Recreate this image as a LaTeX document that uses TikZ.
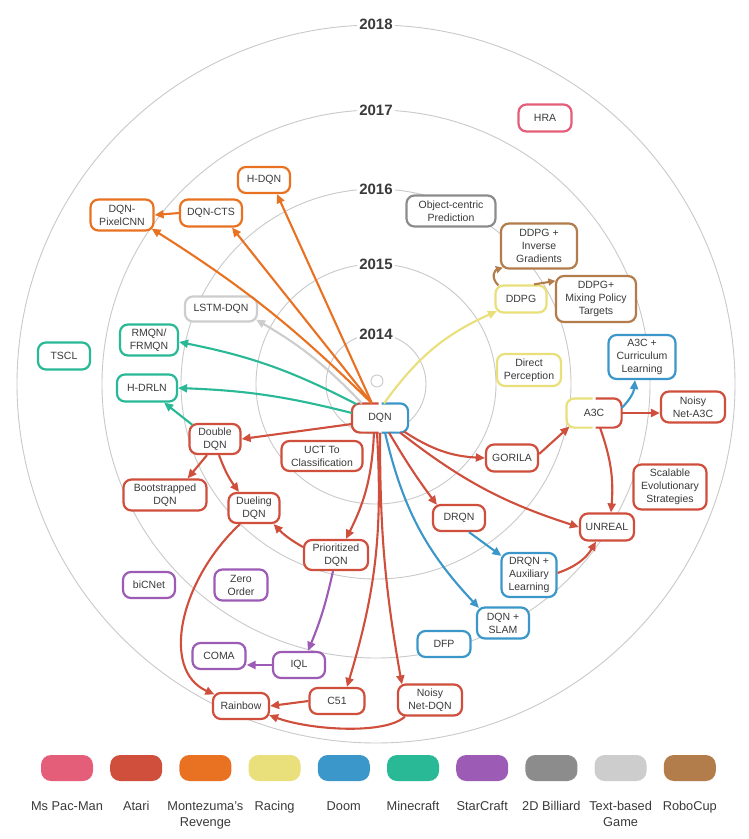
\documentclass[tikz,border=0pt]{standalone}
\usepackage{fontspec}
\setmainfont{Liberation Sans}
\usetikzlibrary{arrows.meta,calc}
\definecolor{cpink}{HTML}{E45E7A}
\definecolor{cred}{HTML}{CF4E3C}
\definecolor{corange}{HTML}{E87222}
\definecolor{cyellow}{HTML}{E9E07C}
\definecolor{cblue}{HTML}{3B97C9}
\definecolor{cteal}{HTML}{29B996}
\definecolor{cpurple}{HTML}{9C5BB5}
\definecolor{cgray}{HTML}{8C8C8C}
\definecolor{clight}{HTML}{CDCDCD}
\definecolor{cbrown}{HTML}{B27D4B}
\definecolor{ccircle}{HTML}{C9C9C9}
\definecolor{ctext}{HTML}{3A3A3A}
\begin{document}
\begin{tikzpicture}[x=1pt,y=-1pt,
  box/.style={draw, line width=2.2pt, rounded corners=8pt, fill=white, align=center,
    text=ctext, font=\fontsize{10.5}{12.9}\selectfont, inner sep=1pt},
  sz/.style 2 args={minimum width=#1pt, minimum height=#2pt},
  conn/.style={line width=2.1pt, -{Triangle[length=9pt,width=8pt]}},
  smallconn/.style={line width=2.1pt, -{Triangle[length=7pt,width=7pt]}},
  ring/.style={ccircle, line width=0.9pt},
  year/.style={fill=white, inner sep=2pt, text=ctext, font=\bfseries\fontsize{15}{15}\selectfont},
  legbox/.style={rounded corners=10pt, minimum width=52pt, minimum height=26pt, inner sep=0pt},
  leglabel/.style={anchor=north, align=center, inner sep=0pt, text=ctext, font=\fontsize{12.8}{15.7}\selectfont}
]
\useasboundingbox (0,0) rectangle (748,839);
\fill[white] (0,0) rectangle (748,839);

% rings
\coordinate (ctr) at (376,384);
\draw[ring] (ctr) circle[radius=50];
\draw[ring] (ctr) circle[radius=120];
\draw[ring] (ctr) circle[radius=195];
\draw[ring] (ctr) circle[radius=274];
\draw[ring] (ctr) circle[radius=359];
\draw[ring] (377,381) circle[radius=6];
\node[year] (y2014) at (376,334) {2014};
\node[year] (y2015) at (376,264) {2015};
\node[year] (y2016) at (376,189) {2016};
\node[year] (y2017) at (376,110) {2017};
\node[year] (y2018) at (376,24) {2018};

% nodes
\node[box, sz={52}{26}, draw=corange] (hdqn) at (264,180) {H-DQN};
\node[box, sz={62}{27}, draw=corange] (dqncts) at (211,213) {DQN-CTS};
\node[box, sz={63}{31}, draw=corange] (pixel) at (122,215) {DQN-\\PixelCNN};
\node[box, sz={72}{25}, draw=clight] (lstm) at (221,309) {LSTM-DQN};
\node[box, sz={58}{31}, draw=cteal] (rmqn) at (149,340) {RMQN/\\FRMQN};
\node[box, sz={52}{27}, draw=cteal] (tscl) at (64,356) {TSCL};
\node[box, sz={60}{27}, draw=cteal] (hdrln) at (147,388) {H-DRLN};
\node[box, sz={53}{27}, draw=cpink] (hra) at (545,118) {HRA};
\node[box, sz={89}{31}, draw=cgray] (objc) at (451,211) {Object-centric\\Prediction};
\node[box, sz={76}{45}, draw=cbrown] (ddpginv) at (539,246) {DDPG +\\Inverse\\Gradients};
\node[box, sz={51}{27}, draw=cyellow] (ddpg) at (521,299) {DDPG};
\node[box, sz={80}{46}, draw=cbrown] (ddpgmix) at (596,299) {DDPG+\\Mixing Policy\\Targets};
\node[box, sz={64}{32}, draw=cyellow] (dirp) at (529,370) {Direct\\Perception};
\node[box, sz={67}{44}, draw=cblue] (a3cc) at (642,357) {A3C +\\Curriculum\\Learning};
\node[box, sz={64}{31}, draw=cred] (noisya3c) at (693,407) {Noisy\\Net-A3C};
\node[box, sz={53}{27}, draw=none] (a3c) at (594,413) {A3C};
\node[box, sz={54}{27}, draw=none] (dqn) at (380,418) {DQN};
\node[box, sz={52}{27}, draw=cred] (gorila) at (512,458) {GORILA};
\node[box, sz={73}{45}, draw=cred] (ses) at (670,487) {Scalable\\Evolutionary\\Strategies};
\node[box, sz={52}{26}, draw=cred] (drqn) at (459,518) {DRQN};
\node[box, sz={54}{27}, draw=cred] (unreal) at (607,527) {UNREAL};
\node[box, sz={55}{44}, draw=cblue] (drqnaux) at (529,575) {DRQN +\\Auxiliary\\Learning};
\node[box, sz={52}{31}, draw=cblue] (slam) at (503,623) {DQN +\\SLAM};
\node[box, sz={53}{26}, draw=cblue] (dfp) at (444,644) {DFP};
\node[box, sz={64}{31}, draw=cred] (noisydqn) at (430,700) {Noisy\\Net-DQN};
\node[box, sz={51}{30}, draw=cred] (double) at (215,439) {Double\\DQN};
\node[box, sz={81}{30}, draw=cred] (uct) at (322,456) {UCT To\\Classification};
\node[box, sz={83}{31}, draw=cred] (boot) at (165,495) {Bootstrapped\\DQN};
\node[box, sz={51}{30}, draw=cred] (dueling) at (254,508) {Dueling\\DQN};
\node[box, sz={64}{30}, draw=cred] (prio) at (336,555) {Prioritized\\DQN};
\node[box, sz={52}{26}, draw=cpurple] (bicnet) at (149,585) {biCNet};
\node[box, sz={53}{31}, draw=cpurple] (zero) at (241,585) {Zero\\Order};
\node[box, sz={53}{26}, draw=cpurple] (coma) at (219,656) {COMA};
\node[box, sz={52}{26}, draw=cpurple] (iql) at (299,665) {IQL};
\node[box, sz={56}{26}, draw=cred] (rainbow) at (241,706) {Rainbow};
\node[box, sz={55}{26}, draw=cred] (c51) at (337,701) {C51};

% split borders
\begin{scope}
  \clip ($(dqn.north west)+(-4,-4)$) rectangle ($(dqn.south)+(-1.5,4)$);
  \draw[cred, line width=2.2pt, rounded corners=8pt] (dqn.north west) rectangle (dqn.south east);
\end{scope}
\begin{scope}
  \clip ($(dqn.north)+(1.5,-4)$) rectangle ($(dqn.south east)+(4,4)$);
  \draw[cblue, line width=2.2pt, rounded corners=8pt] (dqn.north west) rectangle (dqn.south east);
\end{scope}
\begin{scope}
  \clip ($(a3c.north west)+(-4,-4)$) rectangle ($(a3c.south)+(-1.5,4)$);
  \draw[cyellow, line width=2.2pt, rounded corners=8pt] (a3c.north west) rectangle (a3c.south east);
\end{scope}
\begin{scope}
  \clip ($(a3c.north)+(1.5,-4)$) rectangle ($(a3c.south east)+(4,4)$);
  \draw[cred, line width=2.2pt, rounded corners=8pt] (a3c.north west) rectangle (a3c.south east);
\end{scope}

% orange
\draw[conn, corange] ($(dqn.north)+(-8,0)$) -- ($(hdqn.south)+(13,0)$);
\draw[conn, corange] ($(dqn.north)+(-8,0)$) -- ($(dqncts.south)+(21,0)$);
\draw[conn, corange] ($(dqn.north)+(-8,0)$) to[bend right=6] ($(pixel.south east)+(-3,-3)$);
\draw[conn, corange] (dqncts.west) -- (pixel.east);
% gray
\draw[conn, clight] ($(dqn.north west)+(10,0)$) to[bend right=8] ($(lstm.south east)+(-2,-3)$);
% teal
\draw[conn, cteal] ($(dqn.north west)+(5,1)$) to[bend right=8] ($(rmqn.east)+(0,2)$);
\draw[conn, cteal] ($(dqn.west)+(0,-5)$) to[bend right=6] (hdrln.east);
\draw[conn, cteal] ($(double.north west)+(4,2)$) -- ($(hdrln.south east)+(-14,0)$);
% yellow
\draw[conn, cyellow] ($(dqn.north)+(4,0)$) to[bend left=15] ($(ddpg.south west)+(2.5,-2.5)$);
% brown
\draw[smallconn, cbrown] ($(ddpg.north west)+(4,1)$) .. controls (490,277) and (495,270) .. ($(ddpginv.south west)+(3,-2)$);
\draw[smallconn, cbrown] ($(ddpg.north)+(13,0)$) -- ($(ddpgmix.north west)+(0.5,6)$);
% red (Atari)
\draw[conn, cred] ($(dqn.west)+(0,6)$) -- (double.east);
\draw[conn, cred] ($(double.south)+(-8,0)$) -- ($(boot.north east)+(-20,0)$);
\draw[conn, cred] ($(double.south)+(4,0)$) to[bend right=8] ($(dueling.north)+(-15,0)$);
\draw[conn, cred] ($(prio.west)+(0,-8)$) to[bend left=8] ($(dueling.south east)+(-7,0)$);
\draw[conn, cred] ($(dqn.south)+(-6,0)$) to[bend left=12] ($(prio.north)+(10,0)$);
\draw[conn, cred] ($(dueling.south)+(-14,0)$) .. controls (180,580) and (160,670) .. ($(rainbow.north west)+(2.5,2.5)$);
\draw[conn, cred] ($(dqn.south)+(-3,0)$) to[bend left=10] ($(c51.north)+(10,0)$);
\draw[conn, cred] (dqn.south) to[bend right=5] ($(noisydqn.north west)+(5,1)$);
\draw[conn, cred] ($(noisydqn.south west)+(8,0)$) .. controls (385,735) and (310,730) .. ($(rainbow.south east)+(-1,-5)$);
\draw[conn, cred] (c51.west) -- (rainbow.east);
\draw[conn, cred] ($(dqn.south)+(9,0)$) to[bend right=3] ($(drqn.north west)+(5,1)$);
\draw[conn, cred] ($(dqn.south east)+(-8,0)$) to[bend right=10] (unreal.west);
\draw[conn, cred] ($(dqn.south east)+(-4,-1)$) to[bend right=15] (gorila.west);
\draw[conn, cred] ($(gorila.east)+(0,-4)$) -- ($(a3c.south west)+(3,-1)$);
\draw[conn, cred] ($(a3c.south)+(6,0)$) to[bend left=12] ($(unreal.north)+(4,0)$);
\draw[conn, cred] (a3c.east) -- (noisya3c.west |- a3c.east);
\draw[conn, cred] ($(drqnaux.east)+(0,-2)$) to[bend right=20] ($(unreal.south)+(-11,0)$);
% blue (Doom)
\draw[conn, cblue] ($(dqn.south)+(5,0)$) to[bend right=15] ($(slam.north west)+(3,1.5)$);
\draw[conn, cblue] ($(drqn.south)+(10,0)$) -- ($(drqnaux.north west)+(1,4)$);
\draw[conn, cblue] ($(a3c.east)+(0,-5)$) to[bend right=20] ($(a3cc.south)+(-7,0)$);
% purple
\draw[conn, cpurple] ($(prio.south)+(-3,0)$) to[bend left=5] ($(iql.north)+(9,0)$);
\draw[conn, cpurple] (iql.west) -- (coma.east |- iql.west);

% legend
\node[legbox, fill=cpink]   (l1)  at (67,768) {};
\node[legbox, fill=cred]    (l2)  at (136.2,768) {};
\node[legbox, fill=corange] (l3)  at (205.4,768) {};
\node[legbox, fill=cyellow] (l4)  at (274.6,768) {};
\node[legbox, fill=cblue]   (l5)  at (343.8,768) {};
\node[legbox, fill=cteal]   (l6)  at (413,768) {};
\node[legbox, fill=cpurple] (l7)  at (482.2,768) {};
\node[legbox, fill=cgray]   (l8)  at (551.4,768) {};
\node[legbox, fill=clight]  (l9)  at (620.6,768) {};
\node[legbox, fill=cbrown]  (l10) at (689.8,768) {};
\node[leglabel] (t1)  at (67,801.5) {Ms Pac-Man};
\node[leglabel] (t2)  at (136.2,801.5) {Atari};
\node[leglabel] (t3)  at (205.4,801.5) {Montezuma's\\Revenge};
\node[leglabel] (t4)  at (274.6,801.5) {Racing};
\node[leglabel] (t5)  at (343.8,801.5) {Doom};
\node[leglabel] (t6)  at (413,801.5) {Minecraft};
\node[leglabel] (t7)  at (482.2,801.5) {StarCraft};
\node[leglabel] (t8)  at (551.4,801.5) {2D Billiard};
\node[leglabel] (t9)  at (620.6,801.5) {Text-based\\Game};
\node[leglabel] (t10) at (689.8,801.5) {RoboCup};
\end{tikzpicture}
\end{document}
